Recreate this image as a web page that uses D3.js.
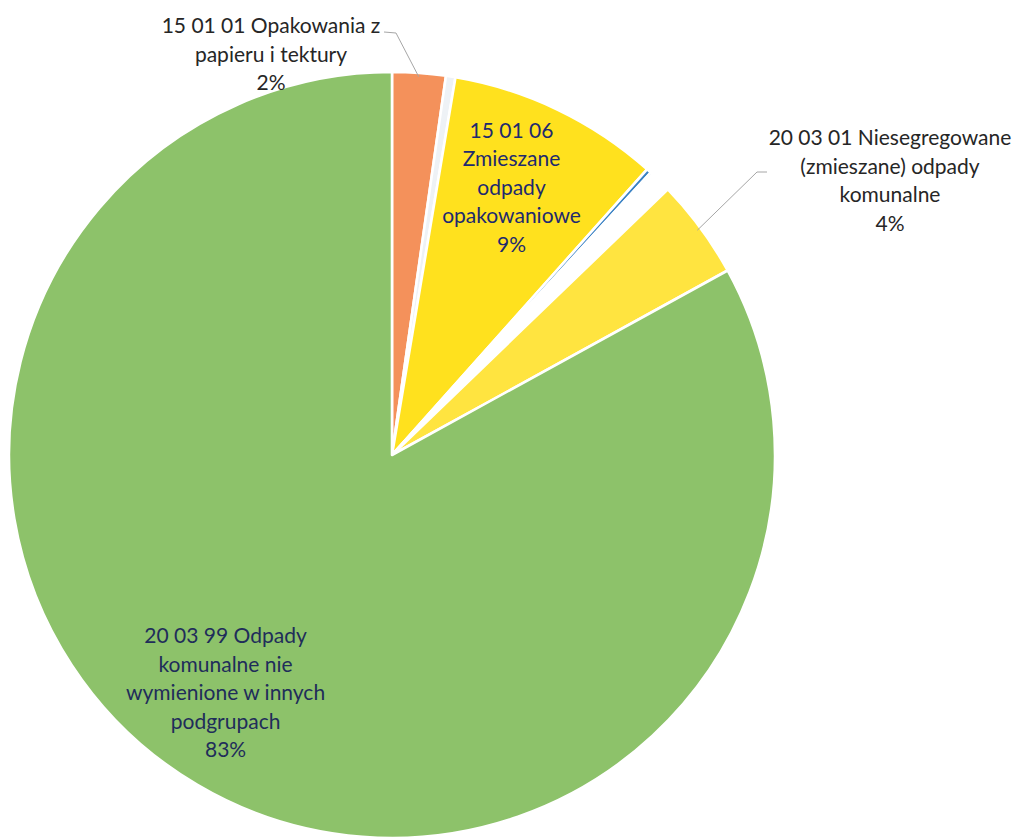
<!DOCTYPE html>
<html>
<head>
<meta charset="utf-8">
<script src="https://cdn.jsdelivr.net/npm/d3@7"></script>
<style>
  html, body { margin: 0; padding: 0; background: #ffffff; }
  svg { display: block; }
  text { font-family: Lato, "Noto Sans", sans-serif; }
</style>
</head>
<body>
<svg id="chart" width="1018" height="839"></svg>
<script>
// ---- data ----
const categories = [
  "15 01 01 Opakowania z papieru i tektury",
  "sliver A",
  "15 01 06 Zmieszane odpady opakowaniowe",
  "sliver B",
  "sliver C",
  "sliver D",
  "20 03 01 Niesegregowane (zmieszane) odpady komunalne",
  "20 03 99 Odpady komunalne nie wymienione w innych podgrupach"
];
const values = [2.25, 0.4, 8.95, 0.2, 0.12, 0.88, 4.2, 83.0];
const colors = ["#F4915B", "#EEF2F6", "#FFE11E", "#3A82C4", "#D6E3EF", "#FFFFFF", "#FFE440", "#8DC26A"];
const labelLines = [
  ["15 01 01 Opakowania z", "papieru i tektury", "2%"],
  null,
  ["15 01 06", "Zmieszane", "odpady", "opakowaniowe", "9%"],
  null, null, null,
  ["20 03 01 Niesegregowane", "(zmieszane) odpady", "komunalne", "4%"],
  ["20 03 99 Odpady", "komunalne nie", "wymienione w innych", "podgrupach", "83%"]
];

const W = 1018, H = 839;
const cx = 392, cy = 455, R = 383;
const svg = d3.select("#chart");
const g = svg.append("g").attr("transform", `translate(${cx},${cy})`);

const data = categories.map((c, i) => ({ name: c, value: values[i], color: colors[i], lines: labelLines[i] }));
const pie = d3.pie().sort(null).value(d => d.value).startAngle(0).endAngle(2 * Math.PI);
const arcs = pie(data);
const arc = d3.arc().innerRadius(0).outerRadius(R);

g.selectAll("path.slice").data(arcs).join("path")
  .attr("class", "slice")
  .attr("d", arc)
  .attr("fill", d => d.data.color)
  .attr("stroke", "#ffffff")
  .attr("stroke-width", 2.6)
  .attr("stroke-linejoin", "round");

const fontSize = 21;
const lineH = 28.5;

function drawLabel(lines, x, y0, fill) {
  const t = svg.append("text")
    .attr("text-anchor", "middle")
    .attr("font-size", fontSize)
    .attr("fill", fill);
  lines.forEach((l, i) => {
    t.append("tspan").attr("x", x).attr("y", y0 + i * lineH).text(l);
  });
}

// inside labels (centroid-based, with small best-fit nudges)
function insideLabel(idx, rFrac, dx, dy, fill) {
  const a = arcs[idx];
  const c = d3.arc().innerRadius(R * rFrac).outerRadius(R * rFrac).centroid(a);
  const lines = a.data.lines;
  const total = (lines.length - 1) * lineH;
  drawLabel(lines, cx + c[0] + dx, cy + c[1] + dy - total / 2 + fontSize * 0.35, fill);
}
insideLabel(2, 0.775, -9, 0, "#1E2A6E");
insideLabel(7, 0.71, -28, 4, "#1F2D5A");

// outside labels with leader lines
function outsideLabel(idx, textX, firstBaseline, leaderPts) {
  const a = arcs[idx];
  const edge = d3.arc().innerRadius(R * 0.99).outerRadius(R * 0.99).centroid(a);
  const pts = leaderPts.concat([[cx + edge[0], cy + edge[1]]]);
  svg.append("path")
    .attr("d", d3.line()(pts))
    .attr("fill", "none")
    .attr("stroke", "#A6A6A6")
    .attr("stroke-width", 1);
  drawLabel(a.data.lines, textX, firstBaseline, "#262626");
}
outsideLabel(0, 271, 33, [[384, 32], [396, 33]]);
outsideLabel(6, 890, 145, [[767, 172], [757, 172]]);
</script>
</body>
</html>
